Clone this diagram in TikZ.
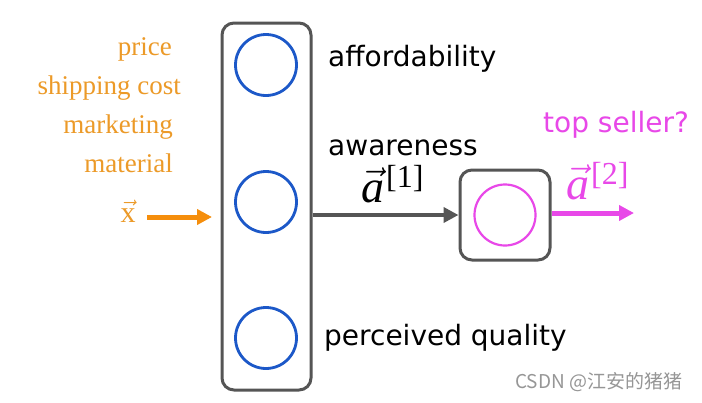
\documentclass[tikz,border=0pt]{standalone}
\usepackage{fix-cm}
\usepackage{fontspec}
\newfontfamily\labelfont{DejaVu Sans}
\newfontfamily\featfont{Liberation Serif}
\newfontfamily\cjkfont{Noto Sans CJK SC}
\usetikzlibrary{arrows.meta}
\definecolor{inorange}{RGB}{236,154,40}
\definecolor{arrorange}{RGB}{245,142,12}
\definecolor{nblue}{RGB}{28,88,200}
\definecolor{pmag}{RGB}{232,72,232}
\definecolor{boxgray}{RGB}{85,85,85}
\definecolor{wmgray}{RGB}{150,150,150}
\newcommand{\actvec}[1]{{\featfont\fontsize{46}{48}\selectfont$\vec{\hbox{\featfont\itshape\fontsize{46}{48}\selectfont a}}$}\hspace{2pt}{\featfont\fontsize{32}{34}\selectfont\raisebox{15pt}{[#1]}}}
\tikzset{
  layerbox/.style={draw=boxgray, line width=3pt, rounded corners=12pt, rectangle, inner sep=0pt},
  neuron/.style={circle, draw=nblue, line width=2.8pt, minimum size=61pt, inner sep=0pt},
  outneuron/.style={circle, draw=pmag, line width=2.2pt, minimum size=61pt, inner sep=0pt},
  featlabel/.style={text=inorange, font=\featfont\fontsize{27}{29}\selectfont, anchor=base east, inner sep=0pt},
  unitlabel/.style={text=black, font=\labelfont\fontsize{28}{30}\selectfont, anchor=base west, inner sep=0pt},
  bigarrow/.style={line width=4.5pt, -{Triangle[length=15pt,width=15pt]}},
}
\begin{document}
\begin{tikzpicture}[x=1pt,y=-1pt]
\useasboundingbox[fill=white] (0,0) rectangle (702,402);
% layer boxes
\node[layerbox, minimum width=89pt, minimum height=367pt] (L1) at (266.5,206.5) {};
\node[layerbox, minimum width=90pt, minimum height=90pt] (L2) at (505,215) {};
% neurons
\node[neuron] (n1) at (266,65) {};
\node[neuron] (n2) at (266,202) {};
\node[neuron] (n3) at (266,338) {};
\node[outneuron] (o1) at (505,215) {};
% input feature labels
\node[featlabel] (fprice) at (172,55) {price};
\node[featlabel] (fship) at (181,94) {shipping cost};
\node[featlabel] (fmark) at (173,133) {marketing};
\node[featlabel] (fmat) at (173,172) {material};
\node[text=inorange, font=\featfont\fontsize{30}{32}\selectfont, anchor=base, inner sep=0pt] (xvec) at (128,222) {$\vec{\hbox{x}}$};
\coordinate (xs) at (147,217);
\coordinate (xe) at (212,217);
\draw[bigarrow, draw=arrorange, fill=arrorange, line width=5pt] (xs) -- (xe);
% unit labels
\node[unitlabel] (uaff) at (328,66) {affordability};
\node[unitlabel] (uaw) at (328,155) {awareness};
\node[unitlabel] (upq) at (324,345) {perceived quality};
\node[unitlabel, text=pmag] (utop) at (543,132) {top seller?};
% activations
\node[anchor=base west, inner sep=0pt] (a1) at (361,202) {\actvec{1}};
\node[anchor=base west, inner sep=0pt, text=pmag] (a2) at (566,199) {\actvec{2}};
\draw[bigarrow, draw=boxgray, fill=boxgray] (L1.east |- L2.west) -- (L2.west);
\coordinate (oe) at (634,213);
\draw[bigarrow, draw=pmag, fill=pmag, line width=5pt] (L2.east |- oe) -- (oe);
% watermark
\node[anchor=base west, inner sep=0pt, text=wmgray, font=\cjkfont\fontsize{19}{21}\selectfont] (wm) at (515,388) {CSDN @江安的猪猪};
\end{tikzpicture}
\end{document}
